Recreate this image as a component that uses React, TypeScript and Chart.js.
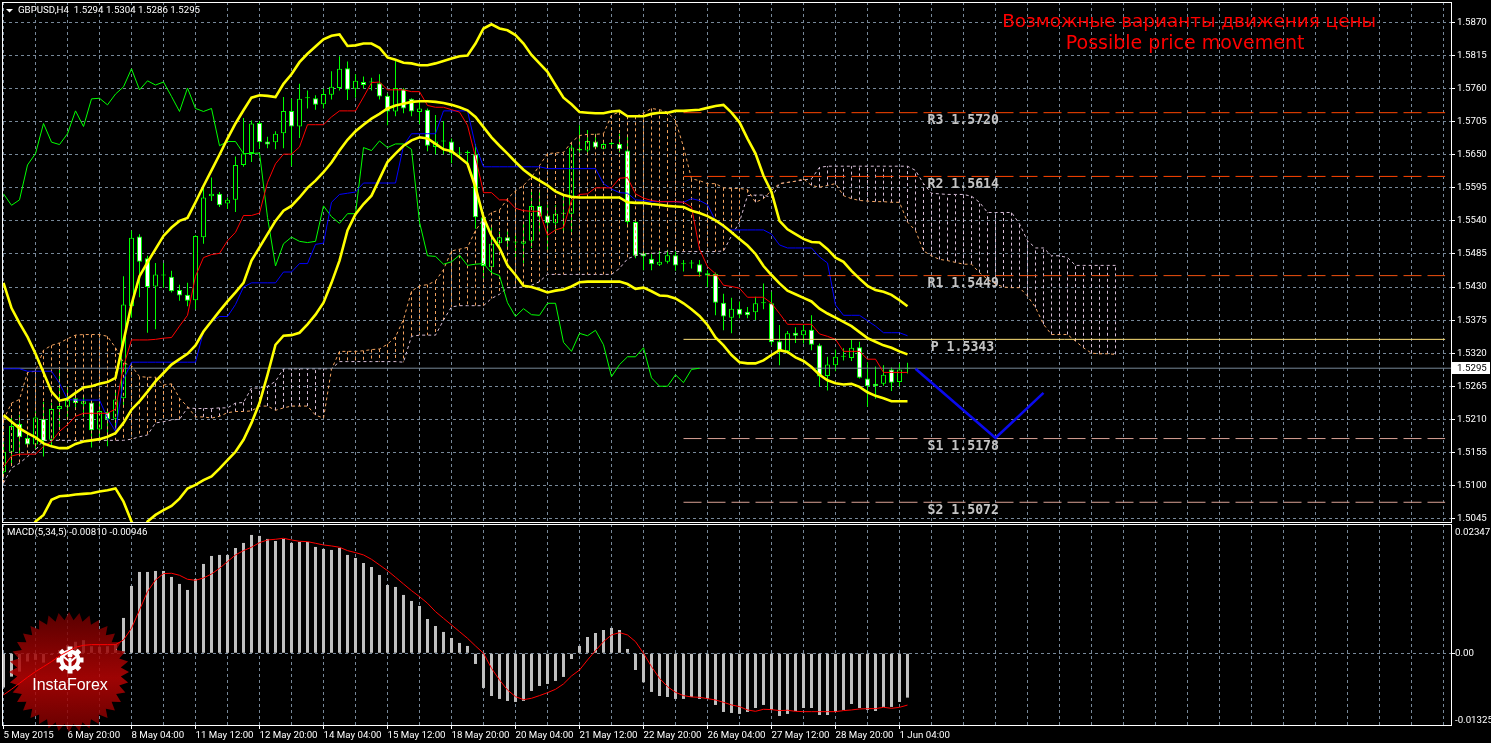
import React, { useEffect, useRef } from "react";
import { Chart, registerables } from "chart.js";

Chart.register(...registerables);

const opens = [1.5122,1.5156,1.5202,1.5179,1.5168,1.5211,1.5176,1.5227,1.5231,1.5245,1.5235,1.5238,1.5193,1.5222,1.5211,1.5245,1.5398,1.5514,1.5478,1.5431,1.5451,1.5447,1.5425,1.5417,1.5408,1.5513,1.5581,1.5585,1.5569,1.5575,1.5633,1.5653,1.5703,1.5672,1.5671,1.5686,1.5723,1.5697,1.5744,1.5744,1.5734,1.5750,1.5761,1.5794,1.5760,1.5771,1.5770,1.5769,1.5748,1.5722,1.5759,1.5743,1.5721,1.5725,1.5663,1.5672,1.5672,1.5652,1.5653,1.5651,1.5546,1.5463,1.5503,1.5513,1.5504,1.5502,1.5507,1.5565,1.5549,1.5536,1.5552,1.5552,1.5660,1.5657,1.5672,1.5660,1.5668,1.5668,1.5657,1.5538,1.5486,1.5477,1.5467,1.5472,1.5483,1.5468,1.5469,1.5468,1.5453,1.5452,1.5404,1.5379,1.5394,1.5389,1.5388,1.5403,1.5403,1.5340,1.5323,1.5354,1.5350,1.5359,1.5333,1.5282,1.5300,1.5314,1.5312,1.5330,1.5278,1.5269,1.5269,1.5293,1.5272,1.5294];
const closes = [1.5156,1.5199,1.5180,1.5168,1.5213,1.5174,1.5227,1.5232,1.5242,1.5237,1.5240,1.5192,1.5224,1.5210,1.5243,1.5401,1.5512,1.5472,1.5430,1.5451,1.5449,1.5423,1.5416,1.5407,1.5515,1.5579,1.5585,1.5566,1.5575,1.5633,1.5652,1.5702,1.5671,1.5667,1.5685,1.5723,1.5697,1.5743,1.5744,1.5733,1.5751,1.5763,1.5793,1.5758,1.5773,1.5766,1.5771,1.5747,1.5722,1.5761,1.5727,1.5722,1.5727,1.5665,1.5672,1.5672,1.5652,1.5652,1.5653,1.5546,1.5465,1.5502,1.5513,1.5506,1.5504,1.5506,1.5565,1.5547,1.5536,1.5552,1.5552,1.5662,1.5657,1.5673,1.5662,1.5668,1.5668,1.5659,1.5538,1.5482,1.5481,1.5468,1.5472,1.5483,1.5466,1.5468,1.5469,1.5454,1.5449,1.5404,1.5381,1.5394,1.5384,1.5383,1.5403,1.5403,1.5338,1.5323,1.5353,1.5349,1.5358,1.5334,1.5281,1.5301,1.5314,1.5314,1.5329,1.5279,1.5265,1.5265,1.5284,1.5271,1.5293,1.5295];
const highs = [1.5171,1.5214,1.5217,1.5184,1.5223,1.5239,1.5237,1.5297,1.5265,1.5253,1.5248,1.5242,1.5239,1.5225,1.5256,1.5448,1.5524,1.5518,1.5482,1.5470,1.5470,1.5457,1.5434,1.5437,1.5516,1.5596,1.5612,1.5588,1.5579,1.5647,1.5711,1.5707,1.5706,1.5680,1.5689,1.5746,1.5743,1.5768,1.5757,1.5749,1.5760,1.5789,1.5814,1.5805,1.5784,1.5780,1.5778,1.5784,1.5752,1.5807,1.5761,1.5744,1.5741,1.5727,1.5716,1.5706,1.5677,1.5663,1.5657,1.5668,1.5552,1.5530,1.5522,1.5525,1.5519,1.5536,1.5591,1.5591,1.5566,1.5566,1.5580,1.5668,1.5699,1.5691,1.5685,1.5672,1.5672,1.5685,1.5680,1.5540,1.5490,1.5485,1.5490,1.5492,1.5489,1.5475,1.5475,1.5475,1.5458,1.5454,1.5419,1.5412,1.5406,1.5397,1.5414,1.5436,1.5422,1.5367,1.5357,1.5363,1.5367,1.5383,1.5336,1.5314,1.5326,1.5328,1.5342,1.5339,1.5305,1.5298,1.5300,1.5296,1.5303,1.5304];
const lows = [1.5120,1.5134,1.5153,1.5164,1.5162,1.5148,1.5166,1.5192,1.5209,1.5228,1.5214,1.5163,1.5178,1.5165,1.5195,1.5231,1.5379,1.5413,1.5354,1.5360,1.5429,1.5421,1.5407,1.5398,1.5393,1.5502,1.5573,1.5563,1.5560,1.5555,1.5630,1.5638,1.5660,1.5661,1.5659,1.5661,1.5631,1.5678,1.5727,1.5725,1.5727,1.5742,1.5757,1.5741,1.5745,1.5760,1.5757,1.5742,1.5699,1.5714,1.5719,1.5714,1.5701,1.5656,1.5651,1.5651,1.5636,1.5646,1.5630,1.5527,1.5445,1.5453,1.5492,1.5492,1.5480,1.5470,1.5495,1.5522,1.5492,1.5520,1.5522,1.5522,1.5654,1.5654,1.5660,1.5659,1.5665,1.5654,1.5529,1.5478,1.5458,1.5458,1.5465,1.5469,1.5457,1.5456,1.5461,1.5447,1.5430,1.5383,1.5358,1.5353,1.5378,1.5378,1.5375,1.5393,1.5333,1.5300,1.5319,1.5337,1.5336,1.5325,1.5264,1.5258,1.5290,1.5308,1.5307,1.5278,1.5231,1.5244,1.5266,1.5257,1.5264,1.5286];

const bollingerUpper = [1.5437,1.5395,1.5370,1.5347,1.5319,1.5288,1.5256,1.5241,1.5244,1.5254,1.5263,1.5265,1.5269,1.5272,1.5279,1.5340,1.5401,1.5448,1.5471,1.5493,1.5515,1.5529,1.5540,1.5545,1.5571,1.5598,1.5624,1.5650,1.5677,1.5702,1.5724,1.5745,1.5749,1.5748,1.5746,1.5768,1.5784,1.5804,1.5818,1.5830,1.5842,1.5848,1.5850,1.5831,1.5832,1.5835,1.5835,1.5828,1.5812,1.5808,1.5803,1.5802,1.5799,1.5799,1.5802,1.5806,1.5810,1.5814,1.5815,1.5835,1.5860,1.5867,1.5860,1.5857,1.5849,1.5835,1.5816,1.5802,1.5788,1.5766,1.5745,1.5734,1.5721,1.5720,1.5719,1.5719,1.5722,1.5723,1.5714,1.5714,1.5714,1.5718,1.5720,1.5720,1.5723,1.5723,1.5724,1.5725,1.5728,1.5731,1.5733,1.5720,1.5704,1.5677,1.5652,1.5615,1.5588,1.5540,1.5526,1.5518,1.5510,1.5505,1.5504,1.5493,1.5479,1.5472,1.5457,1.5444,1.5432,1.5425,1.5422,1.5417,1.5408,1.5398];
const bollingerMiddle = [1.5217,1.5206,1.5195,1.5187,1.5180,1.5170,1.5165,1.5162,1.5162,1.5169,1.5173,1.5175,1.5177,1.5181,1.5187,1.5204,1.5226,1.5240,1.5256,1.5273,1.5287,1.5301,1.5310,1.5319,1.5333,1.5356,1.5373,1.5390,1.5406,1.5421,1.5437,1.5474,1.5496,1.5518,1.5540,1.5557,1.5565,1.5579,1.5595,1.5607,1.5621,1.5637,1.5657,1.5675,1.5689,1.5700,1.5710,1.5718,1.5727,1.5732,1.5735,1.5738,1.5739,1.5739,1.5738,1.5736,1.5733,1.5729,1.5724,1.5713,1.5696,1.5679,1.5665,1.5652,1.5638,1.5625,1.5615,1.5607,1.5599,1.5589,1.5583,1.5580,1.5579,1.5579,1.5579,1.5579,1.5579,1.5579,1.5571,1.5570,1.5570,1.5568,1.5567,1.5565,1.5564,1.5563,1.5557,1.5553,1.5548,1.5541,1.5532,1.5521,1.5510,1.5499,1.5485,1.5465,1.5450,1.5436,1.5424,1.5418,1.5412,1.5406,1.5394,1.5386,1.5379,1.5372,1.5365,1.5355,1.5345,1.5339,1.5333,1.5329,1.5323,1.5318];
const bollingerLowerFrom3 = [1.5015,1.5040,1.5051,1.5076,1.5082,1.5083,1.5085,1.5086,1.5087,1.5090,1.5092,1.5095,1.5073,1.5040,1.5003,1.5040,1.5051,1.5059,1.5066,1.5078,1.5095,1.5101,1.5109,1.5115,1.5128,1.5142,1.5156,1.5176,1.5204,1.5237,1.5284,1.5334,1.5349,1.5350,1.5354,1.5368,1.5384,1.5404,1.5437,1.5474,1.5524,1.5551,1.5568,1.5582,1.5610,1.5638,1.5652,1.5665,1.5674,1.5679,1.5677,1.5668,1.5659,1.5656,1.5646,1.5635,1.5596,1.5546,1.5515,1.5495,1.5466,1.5450,1.5432,1.5430,1.5426,1.5421,1.5424,1.5426,1.5431,1.5438,1.5439,1.5439,1.5439,1.5439,1.5439,1.5435,1.5427,1.5429,1.5423,1.5416,1.5415,1.5411,1.5403,1.5393,1.5382,1.5367,1.5346,1.5333,1.5317,1.5305,1.5303,1.5303,1.5308,1.5317,1.5325,1.5322,1.5313,1.5307,1.5297,1.5284,1.5275,1.5270,1.5268,1.5269,1.5264,1.5255,1.5249,1.5245,1.5240,1.5240,1.5240];

const tenkan = [1.5131,1.5149,1.5152,1.5152,1.5152,1.5165,1.5173,1.5190,1.5201,1.5215,1.5220,1.5220,1.5220,1.5220,1.5227,1.5298,1.5342,1.5342,1.5342,1.5343,1.5345,1.5346,1.5365,1.5383,1.5448,1.5479,1.5484,1.5486,1.5507,1.5521,1.5549,1.5549,1.5553,1.5604,1.5635,1.5651,1.5651,1.5663,1.5700,1.5700,1.5700,1.5713,1.5723,1.5723,1.5723,1.5746,1.5770,1.5771,1.5758,1.5758,1.5758,1.5755,1.5755,1.5732,1.5729,1.5729,1.5725,1.5721,1.5699,1.5646,1.5587,1.5587,1.5575,1.5575,1.5561,1.5557,1.5556,1.5556,1.5516,1.5525,1.5529,1.5574,1.5584,1.5585,1.5595,1.5595,1.5595,1.5611,1.5612,1.5585,1.5578,1.5574,1.5572,1.5572,1.5572,1.5571,1.5563,1.5493,1.5464,1.5452,1.5433,1.5431,1.5428,1.5413,1.5413,1.5413,1.5403,1.5386,1.5368,1.5368,1.5368,1.5368,1.5352,1.5348,1.5343,1.5323,1.5323,1.5323,1.5310,1.5310,1.5288,1.5288,1.5288,1.5288];
const kijun = [1.5294,1.5294,1.5294,1.5290,1.5290,1.5290,1.5290,1.5270,1.5243,1.5242,1.5242,1.5242,1.5242,1.5212,1.5190,1.5276,1.5305,1.5305,1.5305,1.5305,1.5305,1.5305,1.5305,1.5305,1.5305,1.5356,1.5373,1.5381,1.5381,1.5401,1.5430,1.5437,1.5437,1.5437,1.5437,1.5455,1.5455,1.5469,1.5469,1.5501,1.5503,1.5571,1.5584,1.5586,1.5588,1.5603,1.5603,1.5603,1.5603,1.5603,1.5665,1.5685,1.5685,1.5685,1.5685,1.5723,1.5723,1.5723,1.5723,1.5665,1.5630,1.5630,1.5630,1.5630,1.5630,1.5630,1.5630,1.5630,1.5627,1.5627,1.5627,1.5627,1.5627,1.5627,1.5627,1.5602,1.5593,1.5587,1.5586,1.5575,1.5574,1.5572,1.5572,1.5572,1.5572,1.5571,1.5577,1.5574,1.5567,1.5540,1.5529,1.5525,1.5525,1.5525,1.5525,1.5525,1.5518,1.5500,1.5495,1.5495,1.5495,1.5495,1.5480,1.5470,1.5400,1.5383,1.5383,1.5383,1.5374,1.5365,1.5354,1.5354,1.5354,1.5349];
const chikou = [1.5585,1.5566,1.5575,1.5633,1.5652,1.5702,1.5671,1.5667,1.5685,1.5723,1.5697,1.5743,1.5744,1.5733,1.5751,1.5763,1.5793,1.5758,1.5773,1.5766,1.5771,1.5747,1.5722,1.5761,1.5727,1.5722,1.5727,1.5665,1.5672,1.5672,1.5652,1.5652,1.5653,1.5546,1.5465,1.5502,1.5513,1.5506,1.5504,1.5506,1.5565,1.5547,1.5536,1.5552,1.5552,1.5662,1.5657,1.5673,1.5662,1.5668,1.5668,1.5659,1.5538,1.5482,1.5481,1.5468,1.5472,1.5483,1.5466,1.5468,1.5469,1.5454,1.5449,1.5404,1.5381,1.5394,1.5384,1.5383,1.5403,1.5403,1.5338,1.5323,1.5353,1.5349,1.5358,1.5334,1.5281,1.5301,1.5314,1.5314,1.5329,1.5279,1.5265,1.5265,1.5284,1.5271,1.5293,1.5295];
const senkouA = [1.5209,1.5237,1.5243,1.5288,1.5290,1.5325,1.5333,1.5337,1.5344,1.5350,1.5351,1.5351,1.5351,1.5348,1.5329,1.5304,1.5299,1.5281,1.5280,1.5280,1.5267,1.5269,1.5245,1.5231,1.5214,1.5214,1.5212,1.5215,1.5221,1.5223,1.5223,1.5224,1.5232,1.5232,1.5225,1.5229,1.5232,1.5232,1.5232,1.5217,1.5212,1.5293,1.5323,1.5323,1.5323,1.5324,1.5326,1.5327,1.5335,1.5347,1.5376,1.5423,1.5432,1.5434,1.5440,1.5459,1.5490,1.5493,1.5496,1.5524,1.5543,1.5554,1.5558,1.5577,1.5590,1.5599,1.5613,1.5632,1.5652,1.5653,1.5654,1.5671,1.5682,1.5684,1.5684,1.5685,1.5716,1.5721,1.5714,1.5714,1.5719,1.5727,1.5725,1.5721,1.5707,1.5663,1.5610,1.5607,1.5602,1.5602,1.5595,1.5594,1.5594,1.5592,1.5571,1.5577,1.5591,1.5602,1.5604,1.5606,1.5610,1.5599,1.5596,1.5599,1.5602,1.5582,1.5577,1.5574,1.5573,1.5572,1.5572,1.5571,1.5571,1.5538,1.5524,1.5490,1.5482,1.5476,1.5474,1.5471,1.5468,1.5468,1.5454,1.5443,1.5435,1.5430,1.5429,1.5429,1.5415,1.5396,1.5368,1.5351,1.5351,1.5351,1.5340,1.5329,1.5320,1.5319,1.5319,1.5318];
const senkouB = [1.5104,1.5129,1.5137,1.5148,1.5159,1.5175,1.5175,1.5175,1.5175,1.5175,1.5175,1.5175,1.5175,1.5175,1.5175,1.5175,1.5177,1.5181,1.5184,1.5204,1.5206,1.5209,1.5210,1.5229,1.5228,1.5228,1.5228,1.5229,1.5229,1.5237,1.5238,1.5262,1.5262,1.5265,1.5273,1.5294,1.5294,1.5294,1.5294,1.5294,1.5294,1.5294,1.5306,1.5306,1.5306,1.5306,1.5306,1.5306,1.5306,1.5306,1.5305,1.5348,1.5350,1.5350,1.5350,1.5375,1.5397,1.5399,1.5399,1.5399,1.5399,1.5411,1.5418,1.5429,1.5429,1.5430,1.5433,1.5439,1.5451,1.5451,1.5451,1.5451,1.5451,1.5451,1.5451,1.5451,1.5451,1.5461,1.5477,1.5482,1.5485,1.5486,1.5487,1.5489,1.5489,1.5489,1.5489,1.5489,1.5489,1.5489,1.5490,1.5515,1.5538,1.5582,1.5583,1.5583,1.5579,1.5602,1.5604,1.5606,1.5608,1.5610,1.5629,1.5631,1.5631,1.5631,1.5631,1.5631,1.5631,1.5631,1.5631,1.5631,1.5631,1.5631,1.5624,1.5602,1.5586,1.5585,1.5584,1.5584,1.5584,1.5581,1.5571,1.5554,1.5554,1.5554,1.5554,1.5535,1.5507,1.5495,1.5495,1.5482,1.5482,1.5479,1.5466,1.5466,1.5466,1.5466,1.5466,1.5466];

const macdHist = [-0.00627,-0.00426,-0.00335,-0.0015,-0.0012,-0.0017,-0.0003,0.0006,0.0015,0.0021,0.0024,0.0013,0.0012,0.0013,0.0017,0.00646,0.0123,0.01486,0.01486,0.01504,0.01504,0.01395,0.01267,0.01157,0.01358,0.01632,0.01778,0.01797,0.01797,0.01924,0.02016,0.02162,0.02144,0.02089,0.02052,0.02089,0.02016,0.02034,0.02034,0.01943,0.01906,0.01888,0.01924,0.01797,0.01742,0.0165,0.01577,0.01431,0.01248,0.01212,0.01066,0.00956,0.00865,0.00627,0.00499,0.0039,0.0028,0.00189,0.00134,-0.00195,-0.00633,-0.0078,-0.00834,-0.00871,-0.00889,-0.0087,-0.00688,-0.00597,-0.0056,-0.00505,-0.00432,-0.00104,0.00134,0.00298,0.00371,0.00426,0.00463,0.00426,0.00079,-0.00305,-0.0053,-0.00706,-0.0078,-0.00798,-0.00834,-0.00834,-0.00798,-0.00834,-0.00834,-0.00944,-0.01072,-0.0109,-0.01108,-0.01072,-0.00999,-0.00944,-0.01035,-0.01145,-0.01108,-0.01054,-0.00999,-0.00999,-0.01127,-0.01127,-0.01072,-0.01035,-0.00926,-0.00999,-0.01035,-0.01054,-0.0098,-0.0098,-0.00889,-0.0081];
const macdSignal = [-0.00761,-0.00658,-0.00548,-0.00438,-0.00335,-0.00244,-0.00152,-0.00049,0.0003,0.0011,0.00146,0.00158,0.00158,0.00158,0.00158,0.00244,0.00457,0.00792,0.01127,0.0134,0.01456,0.01462,0.01425,0.01352,0.01334,0.01376,0.01449,0.01553,0.01675,0.01797,0.01876,0.01937,0.02022,0.0207,0.02083,0.02101,0.0207,0.02046,0.0204,0.0201,0.01979,0.01961,0.01937,0.01876,0.01839,0.01797,0.01717,0.01614,0.0151,0.01389,0.01267,0.01145,0.01035,0.00914,0.00761,0.00639,0.00518,0.00396,0.00274,0.00134,0,-0.00274,-0.00487,-0.0067,-0.00792,-0.00847,-0.00822,-0.00773,-0.00719,-0.00658,-0.0056,-0.00414,-0.00305,-0.00122,0.00049,0.00213,0.00335,0.00378,0.00335,0.00213,0,-0.00244,-0.00457,-0.00609,-0.00713,-0.00773,-0.00798,-0.00804,-0.00828,-0.00853,-0.00895,-0.00944,-0.00974,-0.01035,-0.0106,-0.01023,-0.01029,-0.01047,-0.01041,-0.0106,-0.01066,-0.01066,-0.01066,-0.01066,-0.01066,-0.01047,-0.01035,-0.01017,-0.01011,-0.01011,-0.00987,-0.01005,-0.00987,-0.00946];

const pivotNames = ["R3 1.5720", "R2 1.5614", "R1 1.5449", "P 1.5343", "S1 1.5178", "S2 1.5072"];
const pivotValues = [1.572, 1.5614, 1.5449, 1.5343, 1.5178, 1.5072];
const pivotColors = ["#FF4500", "#FF4500", "#F0500F", "#FFE27A", "#D8A094", "#D8A094"];
const pivotSpan = [85, 180.2];
const forecastIdx = [114, 124, 130];
const forecastVal = [1.5294, 1.5179, 1.5254];
const lastPrice = 1.5295;

const priceTicks = [1.587, 1.5815, 1.576, 1.5705, 1.565, 1.5595, 1.554, 1.5485, 1.543, 1.5375, 1.532, 1.5265, 1.521, 1.5155, 1.51, 1.5045];
const timeIdx = [0, 8, 16, 24, 32, 40, 48, 56, 64, 72, 80, 88, 96, 104, 112];
const timeLabels = ["5 May 2015", "6 May 20:00", "8 May 04:00", "11 May 12:00", "12 May 20:00", "14 May 04:00", "15 May 12:00", "18 May 20:00", "20 May 04:00", "21 May 12:00", "22 May 20:00", "26 May 04:00", "27 May 12:00", "28 May 20:00", "1 Jun 04:00"];
const gridIdx = Array.from({ length: 46 }, (_, k) => k * 4);

const XMIN = -0.0625;
const XMAX = 180.9375;
const UI = "Roboto";
const UI_SIZE = 9.7;
const GRID = "#778899";

const pts = (a: number[], start = 0) => a.map((y, k) => ({ x: start + k, y }));
const lineDs = (label: string, data: any[], color: string, width: number, order: number, extra: any = {}) => ({
  type: "line", label, data, borderColor: color, backgroundColor: color, borderWidth: width,
  pointRadius: 0, tension: 0, order, ...extra,
});

function hatch(select: (a: number, b: number) => boolean) {
  const out: any[] = [];
  senkouA.forEach((a, i) => {
    const b = senkouB[i];
    if (select(a, b)) out.push({ x: i, y: a }, { x: i, y: b }, { x: i, y: NaN });
  });
  return out;
}

function xScaleBase(): any {
  return {
    type: "linear", min: XMIN, max: XMAX, offset: false, bounds: "ticks",
    afterBuildTicks: (s: any) => { s.ticks = gridIdx.map((v) => ({ value: v })); },
  };
}

function drawFrame(chart: any) {
  const { ctx, chartArea: a } = chart;
  ctx.save();
  ctx.strokeStyle = "#fff";
  ctx.lineWidth = 1;
  ctx.strokeRect(a.left - 0.5, a.top + 0.5, a.right - a.left + 1, a.bottom - a.top);
  ctx.restore();
}

const priceOverlay = {
  id: "priceOverlay",
  afterDatasetsDraw(chart: any) {
    const { ctx, scales } = chart;
    const x = scales.x, y = scales.y;
    ctx.save();
    ctx.textBaseline = "middle";
    ctx.textAlign = "left";
    ctx.font = "bold 13.2px 'DejaVu Sans Mono'";
    ctx.fillStyle = "#C4C4C4";
    pivotNames.forEach((t, k) => {
      const px = t[0] === "P" ? 115.9 : 115.5;
      ctx.fillText(t, x.getPixelForValue(px), y.getPixelForValue(pivotValues[k]) + 8);
    });
    ctx.fillStyle = "#FF0000";
    ctx.textAlign = "center";
    ctx.font = "18.4px 'DejaVu Sans'";
    ctx.fillText("Возможные варианты движения цены", x.getPixelForValue(148.2), y.getPixelForValue(1.587));
    ctx.font = "19px 'DejaVu Sans'";
    ctx.fillText("Possible price movement", x.getPixelForValue(147.7), y.getPixelForValue(1.5834));
    ctx.textAlign = "left";
    ctx.fillStyle = "#fff";
    ctx.font = `${UI_SIZE}px ${UI}`;
    ctx.fillText("GBPUSD,H4  1.5294 1.5304 1.5286 1.5295", 18, 11);
    ctx.beginPath();
    ctx.moveTo(6, 9);
    ctx.lineTo(13, 9);
    ctx.lineTo(9.5, 12.5);
    ctx.closePath();
    ctx.fill();
    drawFrame(chart);
    const py = y.getPixelForValue(lastPrice);
    ctx.fillStyle = "#fff";
    ctx.fillRect(1452, Math.round(py) - 6, 38, 12);
    ctx.fillStyle = "#000";
    ctx.fillText(lastPrice.toFixed(4), 1457, py + 0.5);
    ctx.restore();
  },
};

function drawLogo(ctx: CanvasRenderingContext2D) {
  const cx = 69, cy = 149, R = 60, r = 52, n = 36;
  ctx.save();
  ctx.globalAlpha = 0.84;
  const g = ctx.createLinearGradient(0, cy - R, 0, cy + R);
  g.addColorStop(0, "#6A0000");
  g.addColorStop(0.55, "#BC0404");
  g.addColorStop(1, "#7A0000");
  ctx.fillStyle = g;
  ctx.beginPath();
  for (let k = 0; k < n * 2; k++) {
    const rad = k % 2 ? r : R;
    const t = (k * Math.PI) / n - Math.PI / 2;
    ctx.lineTo(cx + rad * Math.cos(t), cy + rad * Math.sin(t));
  }
  ctx.closePath();
  ctx.fill();
  ctx.globalAlpha = 1;
  const gx = 70, gy = 137;
  ctx.fillStyle = "#fff";
  for (let k = 0; k < 8; k++) {
    ctx.save();
    ctx.translate(gx, gy);
    ctx.rotate((k * Math.PI) / 4);
    ctx.fillRect(-2.5, -13.5, 5, 6);
    ctx.restore();
  }
  ctx.beginPath();
  ctx.arc(gx, gy, 10.5, 0, Math.PI * 2);
  ctx.fill();
  ctx.fillStyle = "#A80404";
  ctx.beginPath();
  ctx.arc(gx, gy, 6.5, 0, Math.PI * 2);
  ctx.fill();
  ctx.fillStyle = "#fff";
  ctx.fillRect(gx - 1.5, gy - 2, 3, 15);
  ctx.beginPath();
  ctx.arc(gx, gy - 5, 2.5, 0, Math.PI * 2);
  ctx.fill();
  ctx.lineWidth = 2;
  ctx.strokeStyle = "#fff";
  ctx.beginPath();
  ctx.moveTo(gx - 6, gy - 3);
  ctx.lineTo(gx, gy + 2);
  ctx.lineTo(gx + 6, gy - 3);
  ctx.stroke();
  ctx.fillStyle = "#fff";
  ctx.font = "16px 'Liberation Sans'";
  ctx.textAlign = "center";
  ctx.textBaseline = "middle";
  ctx.fillText("InstaForex", 70, 163);
  ctx.restore();
}

const macdOverlay = {
  id: "macdOverlay",
  afterDatasetDraw(chart: any, args: any) {
    if (args.index === 0) drawLogo(chart.ctx);
  },
  afterDatasetsDraw(chart: any) {
    const { ctx, scales } = chart;
    const y = scales.y;
    ctx.save();
    drawFrame(chart);
    ctx.fillStyle = "#fff";
    ctx.font = `${UI_SIZE}px ${UI}`;
    ctx.textBaseline = "middle";
    ctx.textAlign = "left";
    ctx.fillText("MACD(5,34,5) -0.00810 -0.00946", 7, 10);
    ctx.fillText("0.02347", 1455, y.getPixelForValue(0.02347) + 7.5);
    ctx.fillText("0.00", 1455, y.getPixelForValue(0));
    ctx.fillText("-0.01325", 1455, y.getPixelForValue(-0.01325) - 5);
    ctx.restore();
  },
};

export default function App() {
  const priceRef = useRef<HTMLCanvasElement>(null);
  const macdRef = useRef<HTMLCanvasElement>(null);

  useEffect(() => {
    document.body.style.margin = "0";
    document.body.style.background = "#000";
    const bodies = opens.map((o, i) => ({ x: i, y: [o, closes[i]] }));
    const wicks = highs.map((h, i) => ({ x: i, y: [lows[i], h] }));
    const pivots = pivotValues.map((v, k) =>
      lineDs(pivotNames[k], pivotSpan.map((x) => ({ x, y: v })), pivotColors[k], 1, 3,
        pivotNames[k][0] === "P" ? {} : { borderDash: [18, 6] }));

    const price = new Chart(priceRef.current as any, {
      type: "line",
      data: {
        datasets: [
          { type: "bar", label: "wick", data: wicks, backgroundColor: "#00FF00", barThickness: 1, grouped: false, inflateAmount: 0, order: 12 },
          {
            type: "bar", label: "body", data: bodies, grouped: false, barThickness: 5, inflateAmount: 0, order: 11,
            backgroundColor: opens.map((o, i) => (closes[i] > o ? "#000" : "#fff")),
            borderColor: "#00FF00", borderWidth: 1, borderSkipped: false, minBarLength: 1,
          },
          lineDs("hatchA", hatch((a, b) => a >= b), "#F4A460", 1, 10, { borderDash: [3, 3], spanGaps: false }),
          lineDs("hatchB", hatch((a, b) => a < b), "#D8BFD8", 1, 10, { borderDash: [3, 3], spanGaps: false }),
          lineDs("Senkou A", pts(senkouA), "#F4A460", 1, 9, { borderDash: [3, 3] }),
          lineDs("Senkou B", pts(senkouB), "#D8BFD8", 1, 9, { borderDash: [3, 3] }),
          lineDs("Last", [{ x: XMIN, y: lastPrice }, { x: XMAX, y: lastPrice }], GRID, 1, 8),
          ...pivots,
          lineDs("Chikou", pts(chikou), "#00FF00", 1, 7),
          lineDs("Kijun", pts(kijun), "#0000FF", 1, 6),
          lineDs("Tenkan", pts(tenkan), "#FF0000", 1, 5),
          lineDs("Upper", pts(bollingerUpper), "#FFFF00", 2.6, 2),
          lineDs("Middle", pts(bollingerMiddle), "#FFFF00", 2.6, 2),
          lineDs("Lower", pts(bollingerLowerFrom3, 3), "#FFFF00", 2.6, 2),
          lineDs("Forecast", forecastIdx.map((x, k) => ({ x, y: forecastVal[k] })), "#0A0AEE", 2.6, 1),
        ] as any,
      },
      options: {
        responsive: false, animation: false, devicePixelRatio: 1, events: [],
        layout: { padding: { left: 3, top: 2, right: 0, bottom: 1 } },
        plugins: { legend: { display: false }, tooltip: { enabled: false } },
        scales: {
          x: {
            ...xScaleBase(),
            afterFit: (s: any) => { s.height = 0; s.paddingLeft = 0; s.paddingRight = 0; },
            grid: { color: GRID, drawTicks: false, offset: false },
            border: { display: false, dash: [3, 3] },
            ticks: { display: false, autoSkip: false },
          },
          y: {
            type: "linear", position: "right", min: 1.50392, max: 1.59041,
            afterBuildTicks: (s: any) => { s.ticks = priceTicks.map((v) => ({ value: v })); },
            afterFit: (s: any) => { s.width = 40; s.paddingTop = 0; s.paddingBottom = 0; },
            grid: { color: GRID, tickColor: "#fff", tickLength: 4, tickBorderDash: [] },
            border: { display: false, dash: [3, 3] },
            ticks: {
              color: "#fff", padding: 2, autoSkip: false, font: { family: UI, size: UI_SIZE },
              callback: (v: any) => Number(v).toFixed(4),
            },
          },
        },
      } as any,
      plugins: [priceOverlay],
    });

    const macd = new Chart(macdRef.current as any, {
      type: "line",
      data: {
        datasets: [
          { type: "bar", label: "MACD", data: pts(macdHist), backgroundColor: "#C0C0C0", barThickness: 3, grouped: false, inflateAmount: 0, order: 2 },
          lineDs("Signal", pts(macdSignal), "#FF0000", 1, 1),
        ] as any,
      },
      options: {
        responsive: false, animation: false, devicePixelRatio: 1, events: [],
        layout: { padding: { left: 3, top: 1, right: 0, bottom: 0 } },
        plugins: { legend: { display: false }, tooltip: { enabled: false } },
        scales: {
          x: {
            ...xScaleBase(),
            afterFit: (s: any) => { s.height = 18; s.paddingLeft = 0; s.paddingRight = 0; },
            grid: {
              color: GRID, offset: false, tickLength: 4, tickBorderDash: [], tickColor: "#fff",
              tickWidth: (c: any) => (c.tick && c.tick.value % 8 === 0 && c.tick.value <= 112 ? 1 : 0),
            },
            border: { display: false, dash: [3, 3] },
            ticks: {
              color: "#fff", padding: 1, autoSkip: false, maxRotation: 0, minRotation: 0, align: "start",
              font: { family: UI, size: UI_SIZE },
              callback: (v: any) => { const k = timeIdx.indexOf(Number(v)); return k >= 0 ? timeLabels[k] : ""; },
            },
          },
          y: {
            type: "linear", position: "right", min: -0.0131, max: 0.02362,
            afterBuildTicks: (s: any) => { s.ticks = [{ value: 0 }]; },
            afterFit: (s: any) => { s.width = 40; s.paddingTop = 0; s.paddingBottom = 0; },
            grid: { color: GRID, drawTicks: true, tickColor: "#fff", tickLength: 4, tickBorderDash: [] },
            border: { display: false, dash: [3, 3] },
            ticks: { display: false },
          },
        },
      } as any,
      plugins: [macdOverlay],
    });

    return () => { price.destroy(); macd.destroy(); };
  }, []);

  return (
    <div style={{ position: "absolute", left: 0, top: 0, width: 1491, height: 743, background: "#000", overflow: "hidden" }}>
      <canvas ref={priceRef} width={1491} height={523} style={{ position: "absolute", left: 0, top: 0, display: "block" }} />
      <canvas ref={macdRef} width={1491} height={220} style={{ position: "absolute", left: 0, top: 523, display: "block" }} />
    </div>
  );
}
